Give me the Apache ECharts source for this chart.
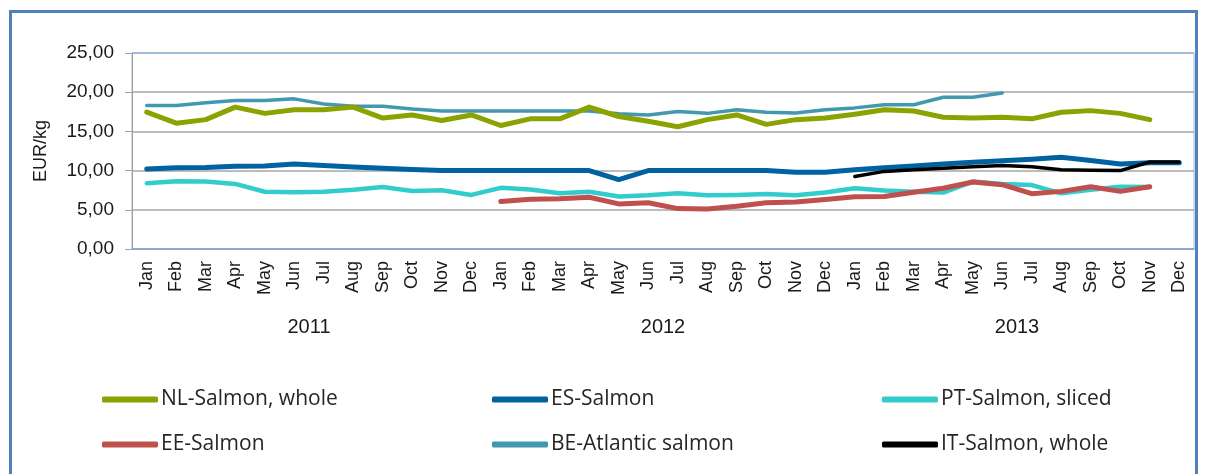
<!DOCTYPE html>
<html>
<head>
<meta charset="utf-8">
<script src="https://cdn.jsdelivr.net/npm/echarts@6/dist/echarts.min.js"></script>
<style>
html,body{margin:0;padding:0;background:#fff;}
#frame{position:absolute;left:9px;top:10px;width:1189px;height:480px;border:3px solid #4F81BD;border-bottom:none;box-sizing:border-box;}
#chart{position:absolute;left:0;top:0;width:1209px;height:474px;}
</style>
</head>
<body>
<div id="frame"></div>
<div id="chart"></div>
<script>
const months = ['Jan','Feb','Mar','Apr','May','Jun','Jul','Aug','Sep','Oct','Nov','Dec'];
const years = ['2011','2012','2013'];
const categories = [].concat(months, months, months);
const yTicks = [0, 5, 10, 15, 20, 25];

const nlSalmon = [17.45,16.05,16.5,18.1,17.3,17.75,17.75,18.1,16.7,17.1,16.4,17.1,
  15.75,16.6,16.6,18.1,16.9,16.3,15.6,16.5,17.1,15.9,16.5,16.7,
  17.2,17.75,17.6,16.8,16.7,16.8,16.6,17.45,17.65,17.3,16.5,null];
const esSalmon = [10.2,10.35,10.4,10.55,10.6,10.85,10.65,10.45,10.3,10.15,10.0,10.0,
  10.0,10.0,10.0,10.0,8.85,10.0,10.0,10.0,10.0,10.0,9.8,9.8,
  10.1,10.35,10.6,10.85,11.05,11.25,11.45,11.7,11.3,10.85,11.0,11.0];
const ptSalmon = [8.4,8.65,8.6,8.3,7.3,7.25,7.3,7.55,7.9,7.4,7.5,6.9,
  7.8,7.6,7.1,7.3,6.7,6.85,7.1,6.85,6.9,7.0,6.85,7.2,
  7.75,7.45,7.3,7.2,8.6,8.3,8.15,7.1,7.55,7.95,7.9,null];
const eeSalmon = [null,null,null,null,null,null,null,null,null,null,null,null,
  6.05,6.35,6.4,6.6,5.75,5.9,5.15,5.1,5.45,5.9,6.0,6.3,
  6.65,6.7,7.25,7.75,8.55,8.2,7.05,7.35,7.95,7.35,7.95,null];
const beSalmon = [18.3,18.3,18.65,18.95,18.95,19.15,18.5,18.2,18.2,17.85,17.6,17.6,
  17.6,17.6,17.6,17.6,17.25,17.1,17.55,17.3,17.75,17.45,17.35,17.75,
  18.0,18.4,18.4,19.35,19.35,19.9,null,null,null,null,null,null];
const itSalmon = [null,null,null,null,null,null,null,null,null,null,null,null,
  null,null,null,null,null,null,null,null,null,null,null,null,
  9.25,9.9,10.1,10.3,10.5,10.65,10.5,10.1,10.05,10.0,11.1,11.1];

const seriesDefs = [
  {name:'NL-Salmon, whole', data:nlSalmon, color:'#8BA300', width:5, z:3},
  {name:'ES-Salmon', data:esSalmon, color:'#0062A1', width:5, z:2},
  {name:'PT-Salmon, sliced', data:ptSalmon, color:'#33CCCC', width:4.5, z:2},
  {name:'EE-Salmon', data:eeSalmon, color:'#C0504D', width:5, z:3},
  {name:'BE-Atlantic salmon', data:beSalmon, color:'#4198AF', width:3.5, z:2},
  {name:'IT-Salmon, whole', data:itSalmon, color:'#000000', width:3.5, z:4}
];
const legendPos = [[102,398],[492,398],[882,398],[102,443],[492,443],[882,443]];

const chart = echarts.init(document.getElementById('chart'), null, {renderer:'canvas'});
const option = {
  animation:false,
  backgroundColor:'transparent',
  grid:{left:132, top:53, right:15, bottom:225, show:true, borderColor:'#95B3D7', borderWidth:1},
  legend: seriesDefs.map((s,i)=>({
    data:[s.name], left:legendPos[i][0], top:legendPos[i][1]-9, padding:0,
    orient:'horizontal', icon:'roundRect', itemWidth:56, itemHeight:6, itemGap:0,
    textStyle:{fontFamily:'Open Sans', fontSize:21, color:'#262626', padding:[0,0,0,-2]}
  })),
  xAxis:[{
    type:'category', data:categories, boundaryGap:true,
    axisLine:{lineStyle:{color:'#7FA6D6', width:1.5}},
    axisTick:{show:false},
    axisLabel:{rotate:90, interval:0, margin:12, fontFamily:'Liberation Sans, Arial', fontSize:18, color:'#1a1a1a'},
    splitLine:{show:false}
  },{
    type:'category', data:years, position:'bottom', offset:68, boundaryGap:true,
    axisLine:{show:false}, axisTick:{show:false},
    axisLabel:{fontFamily:'Liberation Sans, Arial', fontSize:20, color:'#1a1a1a', margin:0}
  }],
  yAxis:{
    type:'value', min:0, max:25, interval:5,
    name:'EUR/kg', nameLocation:'middle', nameGap:82, nameRotate:90,
    nameTextStyle:{fontFamily:'Liberation Sans, Arial', fontSize:18, color:'#1a1a1a'},
    axisLine:{show:true, lineStyle:{color:'#A0A0A0', width:1}},
    axisTick:{show:true, inside:false, length:7, lineStyle:{color:'#A0A0A0'}},
    axisLabel:{margin:18, fontFamily:'Liberation Sans, Arial', fontSize:19, color:'#1a1a1a',
      formatter:(v)=>v.toFixed(2).replace('.',',')},
    splitLine:{show:true, lineStyle:{color:['#A6A6A6','#A6A6A6','#A6A6A6','#A6A6A6','#A6A6A6','#95B3D7'], width:1.5}}
  },
  series: seriesDefs.map(s=>({
    name:s.name, type:'line', data:s.data, xAxisIndex:0, showSymbol:false, symbol:'none',
    connectNulls:false, z:s.z,
    lineStyle:{color:s.color, width:s.width, cap:'round', join:'round'},
    itemStyle:{color:s.color}
  }))
};
chart.setOption(option);
</script>
</body>
</html>
